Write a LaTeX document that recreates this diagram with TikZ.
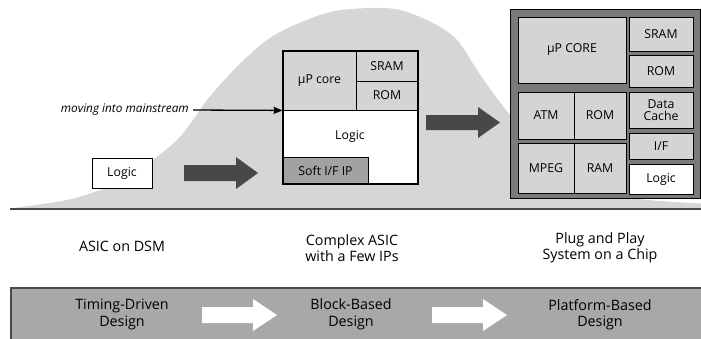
\documentclass[tikz,border=0pt]{standalone}
\usepackage{fontspec}
\setmainfont{Open Sans}
\usetikzlibrary{arrows.meta}
\definecolor{bump}{HTML}{D6D6D6}
\definecolor{cellgray}{HTML}{D4D4D4}
\definecolor{boxgray}{HTML}{7A7A7A}
\definecolor{arrowdark}{HTML}{484848}
\definecolor{softgray}{HTML}{A2A2A2}
\definecolor{bandgray}{HTML}{A8A8A8}
\definecolor{linegray}{HTML}{4A4A4A}
\begin{document}
\begin{tikzpicture}[x=1pt,y=-1pt,
  lbl/.style={font=\fontsize{12.3}{14}\selectfont, inner sep=0pt},
  cell/.style={draw=black, line width=0.8pt, fill=cellgray, inner sep=0pt,
    font=\fontsize{12.3}{14}\selectfont, align=center},
  big/.style={font=\fontsize{14.3}{16.5}\selectfont, align=center, inner sep=0pt},
  bigarrow/.style={fill=arrowdark},
  bandarrow/.style={fill=white},
  ]
\useasboundingbox (0,0) rectangle (701,338);
\clip (0,0) rectangle (701,338);
% bell curve
\fill[bump] plot[smooth, tension=0.55] coordinates {(10,208.5) (67,200) (100,190)
  (133,177) (153,160) (177,140) (193,120) (207,100) (227,77) (247,57) (267,40)
  (290,27) (330,12) (370,8) (400,10) (433,23) (457,40) (477,70) (493,93) (510,115)
  (530,140) (555,163) (590,185) (630,198) (701,203.5)} -- (701,209) -- (10,209) -- cycle;
\draw[linegray, line width=1.5pt] (10,209) -- (701,209);

% small logic block
\node[cell, fill=white, minimum width=60, minimum height=30] (logic0) at (122,173) {Logic};
\fill[bigarrow] (184,165) -- (236,165) -- (236,157) -- (258,173) -- (236,189) -- (236,181) -- (184,181) -- cycle;

% complex ASIC block
\node[cell, fill=white, minimum width=135, minimum height=74] (logic1) at (350.5,147) {};
\node[lbl] (logic1t) at (350,136) {Logic};
\node[cell, minimum width=73, minimum height=59] (core1) at (319.5,80.5) {µP core};
\node[cell, minimum width=62, minimum height=30] (sram1) at (387,66) {SRAM};
\node[cell, minimum width=62, minimum height=29] (rom1) at (387,95.5) {ROM};
\node[cell, fill=softgray, minimum width=85, minimum height=27] (soft) at (325.5,170.5) {Soft I/F IP};
\node[draw, line width=1.8pt, minimum width=135, minimum height=133, inner sep=0pt] (asic) at (350.5,117.5) {};

\node[lbl, font=\fontsize{11.8}{14}\selectfont\itshape, anchor=east] (mov) at (189,110) {moving into mainstream};
\draw[line width=1.3pt, -{Stealth[length=9pt,width=7pt,inset=1pt]}, shorten <=4pt] (mov.east) -- (core1.south west);

\fill[bigarrow] (426,115) -- (478,115) -- (478,107) -- (500,122.5) -- (478,138) -- (478,130) -- (426,130) -- cycle;

% system on a chip
\node[draw, line width=1pt, fill=boxgray, minimum width=190, minimum height=189, inner sep=0pt] (soc) at (605,103.5) {};
\node[cell, minimum width=108, minimum height=66] (core2) at (572,50) {µP CORE};
\node[cell, minimum width=64, minimum height=34] (sram2) at (661,34) {SRAM};
\node[cell, minimum width=64, minimum height=32] (rom2) at (661,71) {ROM};
\node[cell, minimum width=56, minimum height=47] (atm) at (546,115.5) {ATM};
\node[cell, minimum width=52, minimum height=47] (rom3) at (600,115.5) {ROM};
\node[cell, minimum width=56, minimum height=50] (mpeg) at (546,168) {MPEG};
\node[cell, minimum width=52, minimum height=50] (ram) at (600,168) {RAM};
\node[cell, minimum width=64, minimum height=36] (cache) at (661,110) {Data\\[-2pt]Cache};
\node[cell, minimum width=64, minimum height=26] (if) at (661,146) {I/F};
\node[cell, fill=white, minimum width=64, minimum height=30] (logic2) at (661,179) {Logic};

% captions
\node[big] (c1) at (122,246) {ASIC on DSM};
\node[big] (c2) at (352,248) {Complex ASIC\\with a Few IPs};
\node[big] (c3) at (600,248) {Plug and Play\\System on a Chip};

% methodology band
\fill[bandgray] (11,288) rectangle (706,343);
\draw[linegray, line width=1.2pt] (706,288) -- (11,288) -- (11,343);
\node[big] (d1) at (122,314.5) {Timing-Driven\\Design};
\node[big] (d2) at (351,314.5) {Block-Based\\Design};
\node[big] (d3) at (600,314.5) {Platform-Based\\Design};
\fill[bandarrow] (202,307) -- (253,307) -- (253,299) -- (277,315) -- (253,331) -- (253,323) -- (202,323) -- cycle;
\fill[bandarrow] (432,307) -- (483,307) -- (483,299) -- (507,315) -- (483,331) -- (483,323) -- (432,323) -- cycle;
\end{tikzpicture}
\end{document}
